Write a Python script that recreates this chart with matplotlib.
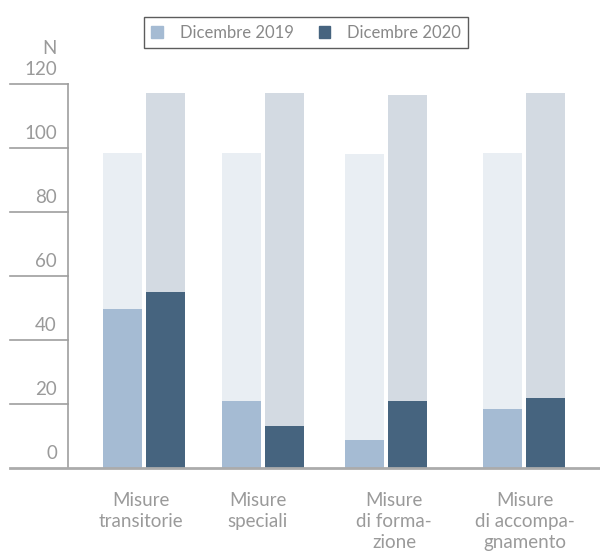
import numpy as np
import matplotlib.pyplot as plt
from matplotlib.patches import Patch

plt.rcParams['font.family'] = ['Lato', 'DejaVu Sans']

categories = ['Misure\ntransitorie', 'Misure\nspeciali', 'Misure\ndi forma-\nzione', 'Misure\ndi accompa-\ngnamento']
group_x = [0.76, 1.95, 3.18, 4.56]
label_x = [0.73, 1.90, 3.26, 4.57]
back_2019 = [98.5, 98.5, 98.2, 98.5]
back_2020 = [117.2, 117.2, 116.6, 117.2]
val_2019 = [49.7, 20.9, 8.7, 18.4]
val_2020 = [55.0, 13.1, 20.9, 21.9]
yticks = [0, 20, 40, 60, 80, 100, 120]

c_back19 = '#E9EEF3'
c_back20 = '#D3DAE2'
c_19 = '#A5BBD3'
c_20 = '#46647F'
grey = '#9E9E9E'
txt = '#9A9A9A'

fig = plt.figure(figsize=(6, 5.56), dpi=100)
ax = fig.add_axes([68/600, 88/556, 532/600, 384/556])

x = np.array(group_x)
w = 0.39
off = 0.215
ax.bar(x - off, back_2019, w, color=c_back19, zorder=1)
ax.bar(x + off, back_2020, w, color=c_back20, zorder=1)
ax.bar(x - off, val_2019, w, color=c_19, zorder=2)
ax.bar(x + off, val_2020, w, color=c_20, zorder=2)

ax.set_xlim(0, 5.32)
ax.set_ylim(0, 120)
for s in ax.spines.values():
    s.set_visible(False)
ax.set_xticks([])
ax.set_yticks([])

# y axis line and tick marks drawn by hand, extending left of the axes
tr = ax.get_yaxis_transform()
ax.plot([0, 0], [0, 120], transform=tr, color=grey, lw=1.2, clip_on=False, zorder=3)
x0 = -58/532
for t in yticks[1:]:
    ax.plot([x0, 0], [t, t], transform=tr, color=grey, lw=1.2, clip_on=False, zorder=3)
    ax.text(-11/532, t + 2.0, str(t), transform=tr, ha='right', va='bottom',
            fontsize=13.5, color=txt)
ax.text(-11/532, 2.0, '0', transform=tr, ha='right', va='bottom', fontsize=13.5, color=txt)
ax.plot([x0, 1], [0, 0], transform=tr, color='#ABABAB', lw=2, clip_on=False, zorder=3)
ax.text(-11/532, 128.5, 'N', transform=tr, ha='right', va='bottom', fontsize=13.5, color=txt)

for lx, lab in zip(label_x, categories):
    ax.text(lx, -7.5, lab, ha='center', va='top', fontsize=13.5, color=txt,
            linespacing=1.28)

handles = [Patch(color=c_19, label='Dicembre 2019'), Patch(color=c_20, label='Dicembre 2020')]
leg = fig.legend(handles=handles, loc='center', bbox_to_anchor=(306/600, 1 - 32.5/556),
                 ncol=2, frameon=True, fancybox=False, fontsize=12, handlelength=0.7,
                 handleheight=0.7, columnspacing=1.5, handletextpad=1.0, borderpad=0.45)
leg.get_frame().set_edgecolor('#333333')
leg.get_frame().set_linewidth(1.0)
for t in leg.get_texts():
    t.set_color('#888888')

fig.savefig('out.png', dpi=100)
